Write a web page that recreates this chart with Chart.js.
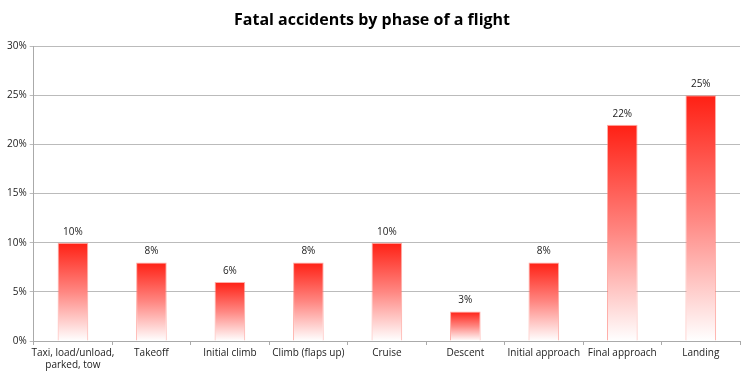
<!DOCTYPE html>
<html>
<head>
<meta charset="utf-8">
<script src="https://cdn.jsdelivr.net/npm/chart.js@4/dist/chart.umd.min.js"></script>
<style>
  html, body { margin: 0; padding: 0; background: #fff; }
  #wrap { width: 754px; height: 377px; }
</style>
</head>
<body>
<div id="wrap"><canvas id="chart"></canvas></div>
<script>
const phases = [
    ['Taxi, load/unload,', 'parked, tow'],
    'Takeoff',
    'Initial climb',
    'Climb (flaps up)',
    'Cruise',
    'Descent',
    'Initial approach',
    'Final approach',
    'Landing'
];
const fatalShare = [10, 8, 6, 8, 10, 3, 8, 22, 25];
const yTicks = [0, 5, 10, 15, 20, 25, 30];

const FONT = "'Open Sans', 'Liberation Sans', sans-serif";

function barGradient(ctx) {
    const chart = ctx.chart;
    const area = chart.chartArea;
    if (!area || ctx.dataIndex === undefined) return '#ff2a1a';
    const y = chart.scales.y;
    const top = y.getPixelForValue(ctx.raw);
    const bottom = y.getPixelForValue(0);
    const g = chart.ctx.createLinearGradient(0, top, 0, bottom);
    g.addColorStop(0, 'rgb(255,32,20)');
    g.addColorStop(0.5, 'rgb(255,135,130)');
    g.addColorStop(1, 'rgb(255,255,255)');
    return g;
}

// draws the percentage above every bar
const valueLabels = {
    id: 'valueLabels',
    afterDatasetsDraw(chart) {
        const c = chart.ctx;
        const meta = chart.getDatasetMeta(0);
        c.save();
        c.font = '10px ' + FONT;
        c.fillStyle = '#222';
        c.textAlign = 'center';
        c.textBaseline = 'bottom';
        meta.data.forEach((bar, i) => {
            c.fillText(fatalShare[i] + '%', bar.x, bar.y - 6);
        });
        c.restore();
    }
};

new Chart(document.getElementById('chart'), {
    type: 'bar',
    data: {
        labels: phases,
        datasets: [{
            data: fatalShare,
            backgroundColor: barGradient,
            borderColor: 'rgba(255,120,110,0.6)',
            borderWidth: 1,
            categoryPercentage: 0.39,
            barPercentage: 1
        }]
    },
    options: {
        responsive: true,
        maintainAspectRatio: false,
        animation: false,
        layout: { padding: { left: 4, right: 14, top: 0, bottom: 4 } },
        plugins: {
            legend: { display: false },
            tooltip: { enabled: false },
            title: {
                display: true,
                text: 'Fatal accidents by phase of a flight',
                color: '#000',
                font: { family: FONT, size: 16, weight: 'bold' },
                padding: { top: 11, bottom: 16 }
            }
        },
        scales: {
            x: {
                grid: {
                    display: true,
                    drawOnChartArea: false,
                    offset: true,
                    color: '#aaa',
                    tickLength: 4
                },
                border: { color: '#aaa' },
                ticks: {
                    color: '#222',
                    font: { family: FONT, size: 10 },
                    maxRotation: 0,
                    autoSkip: false,
                    padding: 2
                }
            },
            y: {
                min: 0,
                max: 30,
                afterBuildTicks: axis => {
                    axis.ticks = yTicks.map(v => ({ value: v }));
                },
                grid: { color: '#bbb', tickLength: 4 },
                border: { color: '#aaa' },
                ticks: {
                    color: '#222',
                    font: { family: FONT, size: 10 },
                    padding: 3,
                    callback: v => v + '%'
                }
            }
        }
    },
    plugins: [valueLabels]
});
</script>
</body>
</html>
